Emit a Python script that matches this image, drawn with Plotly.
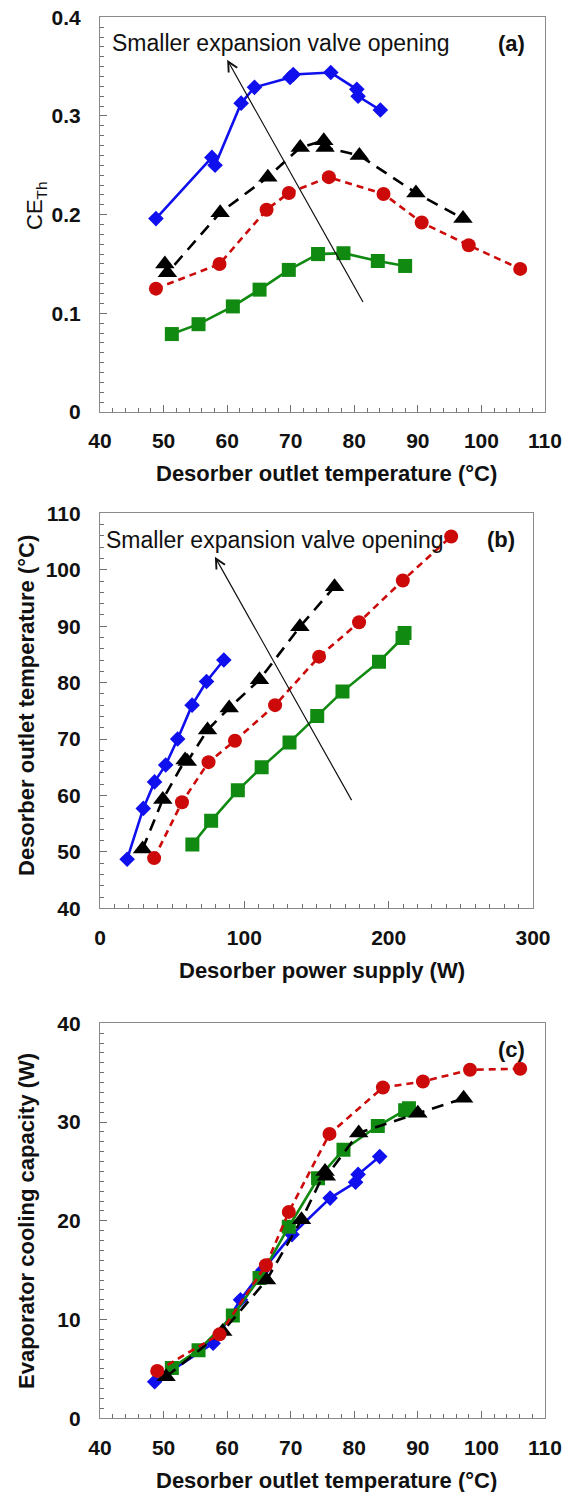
import plotly.graph_objects as go

# ---------------- data ----------------
# (a) CE_Th vs desorber outlet temperature
a_blue_x = [48.8, 57.6, 58.1, 62.2, 64.3, 69.9, 70.4, 76.3, 80.4, 80.6, 84.1]
a_blue_y = [0.196, 0.258, 0.250, 0.313, 0.329, 0.339, 0.342, 0.344, 0.327, 0.320, 0.306]
a_black_x = [50.2, 50.6, 58.9, 66.4, 71.5, 75.2, 75.4, 80.8, 89.7, 97.1]
a_black_y = [0.150, 0.141, 0.202, 0.238, 0.268, 0.275, 0.268, 0.260, 0.222, 0.196]
a_red_x = [48.8, 58.8, 66.2, 69.7, 76.0, 84.6, 90.6, 98.0, 106.1]
a_red_y = [0.125, 0.150, 0.205, 0.222, 0.238, 0.221, 0.192, 0.169, 0.145]
a_green_x = [51.3, 55.5, 60.9, 65.1, 69.7, 74.3, 78.3, 83.7, 88.0]
a_green_y = [0.079, 0.089, 0.107, 0.124, 0.144, 0.160, 0.161, 0.153, 0.148]

# (b) desorber outlet temperature vs desorber power supply
b_blue_x = [18.8, 30.0, 37.8, 45.5, 53.8, 63.8, 73.8, 85.8]
b_blue_y = [48.7, 57.7, 62.4, 65.4, 70.0, 76.0, 80.2, 84.0]
b_black_x = [29.5, 43.5, 59.0, 60.5, 74.5, 89.5, 110.5, 138.5, 162.5]
b_black_y = [50.5, 59.3, 66.3, 66.0, 71.6, 75.5, 80.5, 89.9, 97.0]
b_red_x = [37.5, 56.8, 75.2, 93.5, 121.3, 151.8, 179.5, 209.8, 243.3]
b_red_y = [48.9, 58.8, 65.9, 69.7, 76.0, 84.6, 90.7, 98.1, 105.9]
b_green_x = [64.0, 77.0, 95.5, 112.0, 131.3, 150.5, 168.0, 193.3, 209.6, 211.0]
b_green_y = [51.3, 55.5, 60.9, 65.0, 69.4, 74.1, 78.4, 83.7, 87.9, 88.8]

# (c) evaporator cooling capacity vs desorber outlet temperature
c_blue_x = [48.6, 57.8, 62.1, 65.6, 70.2, 76.2, 80.2, 80.6, 84.0]
c_blue_y = [3.7, 7.6, 12.0, 15.0, 18.6, 22.3, 23.9, 24.7, 26.5]
c_black_x = [50.4, 59.3, 66.2, 71.7, 75.4, 75.6, 80.7, 90.0, 97.2]
c_black_y = [4.2, 8.8, 14.0, 20.1, 25.0, 24.5, 28.9, 30.9, 32.4]
c_red_x = [49.0, 58.8, 66.1, 69.7, 76.1, 84.5, 90.8, 98.2, 106.1]
c_red_y = [4.8, 8.5, 15.5, 20.9, 28.8, 33.5, 34.1, 35.3, 35.4]
c_green_x = [51.3, 55.5, 60.9, 65.1, 69.7, 74.3, 78.3, 83.7, 88.0, 88.6]
c_green_y = [5.1, 6.9, 10.4, 14.2, 19.4, 24.3, 27.2, 29.6, 31.2, 31.4]

label_text = "Smaller expansion valve opening"
# ---------------- styles ----------------
W, H = 570, 1492
FONT = "Arial, 'Liberation Sans', sans-serif"
BLUE, BLACK, RED, GREEN = "#1010ee", "#000000", "#cc0a0a", "#118a11"

series_style = {
    "blue": dict(color=BLUE, symbol="diamond", size=12, dash="solid"),
    "green": dict(color=GREEN, symbol="square", size=14, dash="solid"),
    "black": dict(color=BLACK, symbol="triangle-up", size=17, dash="12px,8px"),
    "red": dict(color=RED, symbol="circle", size=14, dash="7px,5px"),
}

fig = go.Figure()


def add(xs, ys, key, ax):
    s = series_style[key]
    fig.add_trace(go.Scatter(
        x=xs, y=ys, mode="lines+markers", xaxis="x" + ax, yaxis="y" + ax,
        line=dict(color=s["color"], width=2.6, dash=s["dash"]),
        marker=dict(color=s["color"], symbol=s["symbol"], size=s["size"], line=dict(width=0)),
        showlegend=False, hoverinfo="skip"))


panels = [
    ("", [(a_blue_x, a_blue_y, "blue"), (a_green_x, a_green_y, "green"),
          (a_black_x, a_black_y, "black"), (a_red_x, a_red_y, "red")]),
    ("2", [(b_blue_x, b_blue_y, "blue"), (b_green_x, b_green_y, "green"),
           (b_black_x, b_black_y, "black"), (b_red_x, b_red_y, "red")]),
    ("3", [(c_blue_x, c_blue_y, "blue"), (c_green_x, c_green_y, "green"),
           (c_black_x, c_black_y, "black"), (c_red_x, c_red_y, "red")]),
]
for ax, lst in panels:
    for xs, ys, key in lst:
        add(xs, ys, key, ax)


def px_x(p):
    return p / W


def px_y(p):
    return 1 - p / H


def axis(domain, rng, dtick, minor_dtick, anchor, standoff):
    return dict(
        domain=domain, range=rng, dtick=dtick, tick0=rng[0], anchor=anchor,
        showline=True, linecolor="#8a8a8a", linewidth=1.2, mirror=True,
        ticks="inside", ticklen=7, tickwidth=1, tickcolor="#707070",
        minor=dict(ticks="inside", ticklen=4, dtick=minor_dtick, tickcolor="#707070", tickwidth=1),
        showgrid=False, zeroline=False, automargin=False,
        tickfont=dict(family=FONT, size=21, color="#111111", weight="bold"),
        ticklabelstandoff=standoff,
    )


xa = [px_x(100), px_x(545)]
xb = [px_x(100), px_x(533)]
fig.update_layout(
    width=W, height=H, margin=dict(l=0, r=0, t=0, b=0),
    paper_bgcolor="white", plot_bgcolor="white",
    font=dict(family=FONT, color="#111111"),
    xaxis=axis(xa, [40, 110], 10, 2, "y", 10),
    yaxis=axis([px_y(412), px_y(17.3)], [0, 0.4], 0.1, 0.01, "x", 14),
    xaxis2=axis(xb, [0, 300], 100, 10, "y2", 10),
    yaxis2=axis([px_y(908.3), px_y(513.3)], [40, 110], 10, 2, "x2", 14),
    xaxis3=axis(xa, [40, 110], 10, 2, "y3", 10),
    yaxis3=axis([px_y(1418.3), px_y(1023.3)], [0, 40], 10, 1, "x3", 14),
)

ann = []
title_font = dict(family=FONT, size=22, color="#111111", weight="bold")


def paper_text(text, x, y, font, angle=0):
    return dict(text=text, x=px_x(x), y=px_y(y), xref="paper", yref="paper",
                xanchor="center", yanchor="middle", textangle=angle,
                showarrow=False, font=font)


# axis titles
ann.append(paper_text("Desorber outlet temperature (°C)", 326, 473, title_font))
ann.append(paper_text("CE<sub>Th</sub>", 36, 206,
                      dict(family=FONT, size=22, color="#111111"), -90))
ann.append(paper_text("Desorber power supply (W)", 322, 970, title_font))
ann.append(paper_text("Desorber outlet temperature (°C)", 26, 706, title_font, -90))
ann.append(paper_text("Desorber outlet temperature (°C)", 326, 1480, title_font))
ann.append(paper_text("Evaporator cooling capacity (W)", 26, 1221, title_font, -90))

label_font = dict(family=FONT, size=23, color="#111111")
# panel labels and text
ann.append(dict(text=label_text, x=41.5, y=0.3735, xref="x", yref="y", xanchor="left",
                yanchor="middle", showarrow=False, font=label_font))
ann.append(dict(text="(a)", x=104.8, y=0.3735, xref="x", yref="y", showarrow=False, font=title_font))
ann.append(dict(text=label_text, x=3.0, y=105.3, xref="x2", yref="y2", xanchor="left",
                yanchor="middle", showarrow=False, font=label_font))
ann.append(dict(text="(b)", x=277.7, y=105.3, xref="x2", yref="y2", showarrow=False, font=title_font))
ann.append(dict(text="(c)", x=104.7, y=37.3, xref="x3", yref="y3", showarrow=False, font=title_font))

# arrows
ann.append(dict(text="", x=60.0, y=0.357, ax=81.5, ay=0.110, xref="x", yref="y", axref="x", ayref="y",
                showarrow=True, arrowhead=5, arrowsize=1.6, arrowwidth=1.2, arrowcolor="#111111"))
ann.append(dict(text="", x=79.6, y=102.3, ax=174.9, ay=58.9, xref="x2", yref="y2", axref="x2", ayref="y2",
                showarrow=True, arrowhead=5, arrowsize=1.6, arrowwidth=1.2, arrowcolor="#111111"))

fig.update_layout(annotations=ann)
fig.write_html("out.html")
